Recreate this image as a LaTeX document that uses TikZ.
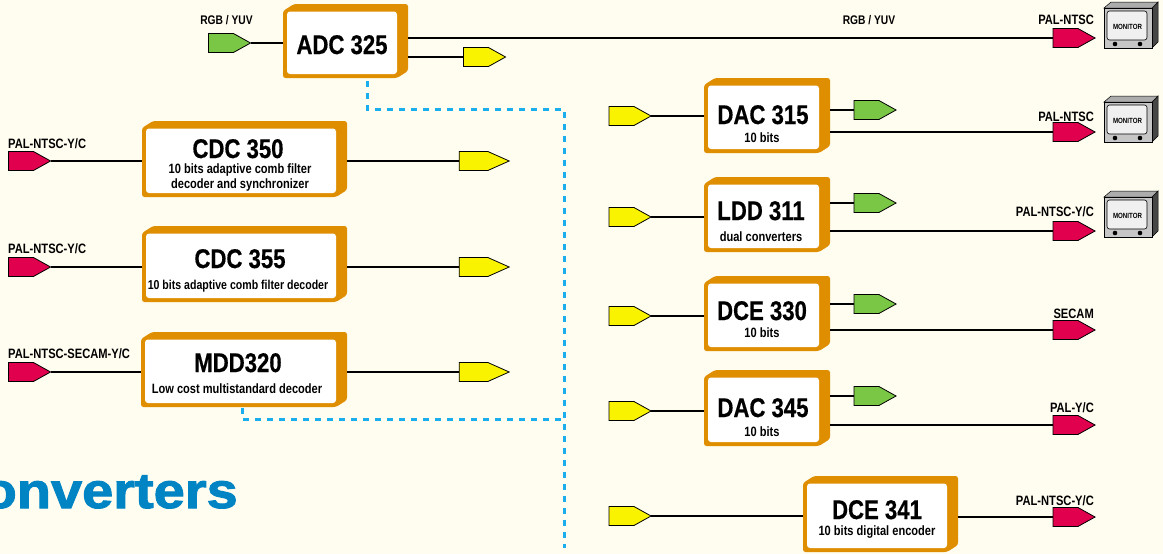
\documentclass[tikz,border=0pt]{standalone}
\usepackage{fontspec}
\setmainfont{Liberation Sans}
\newfontfamily\narrowbold[FakeStretch=0.82]{Liberation Sans Bold}
\newfontfamily\titlebold[FakeStretch=0.82,FakeBold=0.5]{Liberation Sans Bold}
\newfontfamily\headfont[FakeStretch=1.12,FakeBold=2]{Liberation Sans Bold}
\usetikzlibrary{shapes.symbols,calc}
\definecolor{paper}{HTML}{FFFDF0}
\definecolor{frameorange}{HTML}{DF8E00}
\definecolor{taggreen}{HTML}{79C745}
\definecolor{tagyellow}{HTML}{F9F300}
\definecolor{tagred}{HTML}{E0004D}
\definecolor{busblue}{HTML}{1AAEEF}
\definecolor{headblue}{HTML}{0084C4}
\tikzset{
  x=1pt,y=-1pt,
  tagbase/.style={signal,signal to=east,draw=black,line width=0.8pt,minimum height=19pt,inner sep=0pt,outer sep=0pt},
  shorttag/.style={tagbase,minimum width=42pt,signal pointer angle=58,xshift=-8pt},
  longtag/.style={tagbase,minimum width=50pt,signal pointer angle=48,xshift=-10.5pt},
  wire/.style={draw=black,line width=1.9pt},
  bus/.style={draw=busblue,line width=3pt,dash pattern=on 5.5pt off 6.5pt},
  ghost/.style={inner sep=0pt,outer sep=0pt},
  title/.style={font=\titlebold\fontsize{27}{27}\selectfont,anchor=base,inner sep=0pt},
  subt/.style={font=\narrowbold\fontsize{13.5}{14}\selectfont,anchor=base,inner sep=0pt},
  subtsmall/.style={subt,font=\narrowbold\fontsize{12.9}{14}\selectfont},
  lab/.style={font=\narrowbold\fontsize{13.6}{14}\selectfont,anchor=base,inner sep=0pt},
  labrgb/.style={lab,font=\narrowbold\fontsize{12.5}{14}\selectfont},
  labl/.style={lab,anchor=base west},
  labr/.style={lab,anchor=base east},
  monlab/.style={font=\narrowbold\fontsize{7.5}{8}\selectfont,inner sep=0pt},
}
% name, x0, y0, x1, y1
\newcommand\blockframe[5]{%
  \node[ghost,minimum width={#4-#2},minimum height={#5-#3}] (#1) at ({(#2+#4)/2},{(#3+#5)/2}) {};
  \fill[frameorange,rounded corners=2.5pt] (#2,#3+7) -- (#2+11,#3) -- (#4,#3) -- (#4,#5-7) -- (#4-11,#5) -- (#2,#5) -- cycle;
  \fill[white,rounded corners=3pt] (#2+4,#3+7.5) rectangle (#4-11,#5-4);
}
% x, y of front top-left
\newcommand\monitor[3]{%
  \fill[gray!55!black,draw=black,line width=0.5pt] (#2+48,#3) -- (#2+54,#3-6) -- (#2+54,#3+34) -- (#2+48,#3+40) -- cycle;
  \fill[gray!65,draw=black,line width=0.5pt] (#2,#3) -- (#2+7,#3-6) -- (#2+54,#3-6) -- (#2+48,#3) -- cycle;
  \filldraw[fill=gray!45,draw=black,line width=0.6pt] (#2,#3) rectangle (#2+48,#3+40);
  \filldraw[fill=gray!12,draw=black,line width=0.6pt,rounded corners=2.5pt] (#2+3,#3+3) rectangle (#2+43,#3+32);
  \fill[black] (#2+11,#3+36) circle (2.3pt) (#2+36,#3+36) circle (2.3pt);
  \node[monlab] (#1) at (#2+23.5,#3+19) {MONITOR};
}
\begin{document}
\begin{tikzpicture}
\useasboundingbox (0,0) rectangle (1163,554);
\fill[paper] (0,0) rectangle (1163,554);

\node[font=\headfont\fontsize{50}{50}\selectfont,text=headblue,anchor=base east,inner sep=0pt] (head) at (238,508) {onverters};

\blockframe{adc}{283}{4}{408}{78}
\blockframe{cdcA}{142}{121}{347}{197}
\blockframe{cdcB}{142}{226}{347}{302}
\blockframe{mdd}{141}{332}{347}{407}
\blockframe{dacA}{704}{78}{830}{153}
\blockframe{ldd}{704}{177}{830}{252}
\blockframe{dceA}{704}{276}{830}{351}
\blockframe{dacB}{704}{370}{830}{446}
\blockframe{dceB}{803}{476}{958}{552}

\node[title] (tadc) at (342,54) {ADC 325};
\node[title] (tcdcA) at (238,158) {CDC 350};
\node[subt] (scdcAa) at (240,173) {10 bits adaptive comb filter};
\node[subt] (scdcAb) at (240,188) {decoder and synchronizer};
\node[title] (tcdcB) at (240,268) {CDC 355};
\node[subtsmall] (scdcB) at (238,289) {10 bits adaptive comb filter decoder};
\node[title] (tmdd) at (238,372) {MDD320};
\node[subt] (smdd) at (237,393) {Low cost multistandard decoder};
\node[title] (tdacA) at (763,124) {DAC 315};
\node[subt] (sdacA) at (762,142) {10 bits};
\node[title] (tldd) at (761,220) {LDD 311};
\node[subt] (sldd) at (761,241) {dual converters};
\node[title] (tdceA) at (762,320) {DCE 330};
\node[subt] (sdceA) at (762,337) {10 bits};
\node[title] (tdacB) at (763,417) {DAC 345};
\node[subt] (sdacB) at (762,436) {10 bits};
\node[title] (tdceB) at (877,519) {DCE 341};
\node[subt] (sdceB) at (877,535) {10 bits digital encoder};

% tags
\node[shorttag,fill=taggreen] (inAdc) at (229,43) {};
\node[shorttag,fill=tagyellow] (outAdc) at (484,57) {};
\node[shorttag,fill=tagred] (outTop) at (1073.5,38) {};
\node[shorttag,fill=tagred] (inCa) at (29,161) {};
\node[shorttag,fill=tagred] (inCb) at (29,267) {};
\node[shorttag,fill=tagred] (inM) at (29,372) {};
\node[longtag,fill=tagyellow] (outCa) at (484,161) {};
\node[longtag,fill=tagyellow] (outCb) at (484,267) {};
\node[longtag,fill=tagyellow] (outM) at (484,372) {};
\node[shorttag,fill=tagyellow] (inDa) at (629.5,116) {};
\node[shorttag,fill=tagyellow] (inL) at (629.5,217) {};
\node[shorttag,fill=tagyellow] (inDc) at (629.5,316) {};
\node[shorttag,fill=tagyellow] (inDb) at (629.5,411) {};
\node[shorttag,fill=tagyellow] (inDe) at (629.5,516) {};
\node[shorttag,fill=taggreen] (gDa) at (874.5,110) {};
\node[shorttag,fill=taggreen] (gL) at (874.5,203) {};
\node[shorttag,fill=taggreen] (gDc) at (874.5,304) {};
\node[shorttag,fill=taggreen] (gDb) at (874.5,396) {};
\node[shorttag,fill=tagred] (rDa) at (1073.5,132) {};
\node[shorttag,fill=tagred] (rL) at (1073.5,231) {};
\node[shorttag,fill=tagred] (rDc) at (1073.5,330) {};
\node[shorttag,fill=tagred] (rDb) at (1073.5,425) {};
\node[shorttag,fill=tagred] (rDe) at (1073.5,517) {};

% connectors
\draw[wire] (inAdc.east) -- (inAdc.east -| adc.west);
\draw[wire] (adc.east |- outAdc.west) -- (outAdc.west);
\draw[wire] (adc.east |- outTop.west) -- (outTop.west);
\draw[wire] (inCa.east) -- (inCa.east -| cdcA.west);
\draw[wire] (inCb.east) -- (inCb.east -| cdcB.west);
\draw[wire] (inM.east) -- (inM.east -| mdd.west);
\draw[wire] (cdcA.east |- outCa.west) -- (outCa.west);
\draw[wire] (cdcB.east |- outCb.west) -- (outCb.west);
\draw[wire] (mdd.east |- outM.west) -- (outM.west);
\draw[wire] (inDa.east) -- (inDa.east -| dacA.west);
\draw[wire] (inL.east) -- (inL.east -| ldd.west);
\draw[wire] (inDc.east) -- (inDc.east -| dceA.west);
\draw[wire] (inDb.east) -- (inDb.east -| dacB.west);
\draw[wire] (inDe.east) -- (inDe.east -| dceB.west);
\draw[wire] (dacA.east |- gDa.west) -- (gDa.west);
\draw[wire] (ldd.east |- gL.west) -- (gL.west);
\draw[wire] (dceA.east |- gDc.west) -- (gDc.west);
\draw[wire] (dacB.east |- gDb.west) -- (gDb.west);
\draw[wire] (dacA.east |- rDa.west) -- (rDa.west);
\draw[wire] (ldd.east |- rL.west) -- (rL.west);
\draw[wire] (dceA.east |- rDc.west) -- (rDc.west);
\draw[wire] (dacB.east |- rDb.west) -- (rDb.west);
\draw[wire] (dceB.east |- rDe.west) -- (rDe.west);

% dotted bus
\coordinate (busTop) at (564,109);
\coordinate (busEnd) at (564,548);
\coordinate (busJoin) at (564,419);
\coordinate (busAdc) at ($(adc.south)+(21.5,3)$);
\coordinate (busMdd) at ($(mdd.south)+(-2,1)$);
\draw[bus] (busAdc) -- (busAdc |- busTop) -- (busTop) -- (busEnd);
\draw[bus] (busMdd) -- (busMdd |- busJoin) -- (busJoin);

% labels
\node[labrgb] (lRgbA) at (226.5,24) {RGB / YUV};
\node[labrgb] (lRgbB) at (869,24) {RGB / YUV};
\node[labr] (lA) at (1094,24) {PAL-NTSC};
\node[labr] (lB) at (1094,121) {PAL-NTSC};
\node[labr] (lC) at (1094,216) {PAL-NTSC-Y/C};
\node[labr] (lD) at (1094,318) {SECAM};
\node[labr] (lE) at (1094,412) {PAL-Y/C};
\node[labr] (lF) at (1094,505) {PAL-NTSC-Y/C};
\node[labl] (lG) at (8,148) {PAL-NTSC-Y/C};
\node[labl] (lH) at (8,253) {PAL-NTSC-Y/C};
\node[labl] (lI) at (8,358) {PAL-NTSC-SECAM-Y/C};

\monitor{monA}{1104}{8}
\monitor{monB}{1104}{102}
\monitor{monC}{1104}{197}
\end{tikzpicture}
\end{document}
